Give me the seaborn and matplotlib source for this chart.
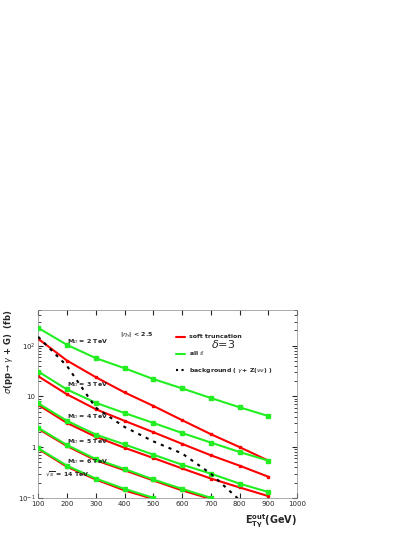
import matplotlib
matplotlib.use("Agg")
import matplotlib.pyplot as plt
import matplotlib.ticker as mticker
import seaborn as sns
import numpy as np
import pandas as pd

sns.set_style("ticks")
plt.rcParams['font.family'] = ['DejaVu Sans']

x = [100, 200, 300, 400, 500, 600, 700, 800, 900]
green = {
    "2": [225, 104, 57, 36, 22, 14.4, 9.3, 6.1, 4.1],
    "3": [31, 13.7, 7.5, 4.7, 3.0, 1.9, 1.23, 0.8, 0.54],
    "4": [7.3, 3.3, 1.77, 1.13, 0.71, 0.45, 0.30, 0.19, 0.13],
    "5": [2.4, 1.1, 0.58, 0.37, 0.23, 0.15, 0.1],
    "6": [0.95, 0.43, 0.24, 0.15, 0.1],
}
red = {
    "2": [137, 51, 24, 12, 6.5, 3.4, 1.8, 1.0, 0.54],
    "3": [25, 11, 5.6, 3.3, 1.97, 1.16, 0.69, 0.43, 0.26],
    "4": [6.8, 3.0, 1.6, 0.97, 0.61, 0.38, 0.24, 0.16, 0.108],
    "5": [2.3, 1.05, 0.55, 0.35, 0.22, 0.14, 0.095],
    "6": [0.92, 0.41, 0.23, 0.14, 0.095],
}
bkg = [150, 40, 6.0, 2.5, 1.3, 0.75, 0.3, 0.09]

fig = plt.figure(figsize=(4.15, 5.37), dpi=100)
ax = fig.add_axes([0.092, 0.073, 0.624, 0.35])
for k in green:
    ax.plot(x[:len(red[k])], red[k], color="red", lw=1.5, marker="s", ms=2, zorder=2)
    ax.plot(x[:len(green[k])], green[k], color="#22ee22", lw=1.5, marker="s", ms=3.5, zorder=3)
ax.plot(x[:len(bkg)], bkg, color="black", ls=(0, (1.5, 2.5)), lw=1.5, zorder=4)

ax.set_yscale("log")
ax.set_xlim(100, 1000)
ax.set_ylim(0.1, 510)
ax.set_xticks(range(100, 1001, 100))
ytl = {0.1: r"10$^{-1}$", 1: "1", 10: "10", 100: r"10$^{2}$"}
ax.yaxis.set_major_locator(mticker.FixedLocator(list(ytl)))
ax.yaxis.set_major_formatter(mticker.FuncFormatter(lambda v, p: ytl.get(round(v, 3), "")))
ax.tick_params(labelsize=5, direction="in", which="both", top=True, right=True, pad=2)
for s in ax.spines.values():
    s.set_linewidth(0.5)
    s.set_color("#888888")
ax.set_xlabel(r"$\mathbf{E_{T\gamma}^{out}}$(GeV)", fontsize=7, fontweight="bold", loc="right")
ax.set_ylabel(r"$\sigma$(pp$\rightarrow\gamma$ + G)  (fb)", fontsize=6, fontweight="bold",
              loc="top", labelpad=2)

lbl = [(200, 100, "2"), (200, 14, "3"), (200, 3.2, "4"), (200, 1.05, "5"), (200, 0.42, "6")]
for xx, yy, m in lbl:
    ax.text(xx, yy, r"M$_D$ = %s TeV" % m, fontsize=4.5, fontweight="bold", va="bottom")
ax.text(125, 0.27, r"$\sqrt{s}$ = 14 TeV", fontsize=4.5, fontweight="bold")
ax.text(385, 150, r"|$\eta_\gamma$| < 2.5", fontsize=4.5, fontweight="bold")
ax.text(700, 90, r"$\delta$=3", fontsize=8)
legend = [(150, "red", "-", "soft truncation"), (70, "#22ee22", "-", r"all $\hat{s}$"),
          (33, "black", ":", r"background ( $\gamma$+ Z($\nu\nu$) )")]
for yy, c, ls, t in legend:
    ax.plot([578, 610], [yy, yy], color=c, ls=ls, lw=1.5)
    ax.text(625, yy, t, fontsize=4.5, fontweight="bold", va="center")
fig.savefig("out.png", dpi=100)
